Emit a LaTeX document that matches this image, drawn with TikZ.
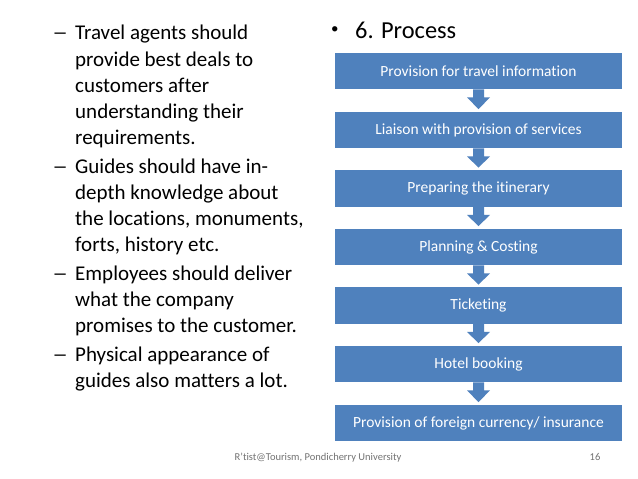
\documentclass[tikz,border=0pt]{standalone}
\usepackage{fontspec}
\usetikzlibrary{calc}
\setmainfont{Carlito}[Ligatures=NoCommon]
\definecolor{boxblue}{HTML}{4F81BD}
\tikzset{
  stagebox/.style={fill=boxblue,draw=none,minimum width=287pt,minimum height=36.5pt,inner sep=0pt,text=white,font=\fontsize{15.5}{18}\selectfont,anchor=center},
  flowarrow/.style={fill=boxblue,draw=none},
  bodyline/.style={anchor=base west,inner sep=0pt,font=\fontsize{21}{25}\selectfont,text=black},
  headline/.style={anchor=base west,inner sep=0pt,font=\fontsize{24.4}{28}\selectfont,text=black},
  bulletmark/.style={anchor=base west,inner sep=0pt,font=\fontsize{15}{18}\selectfont,text=black},
  footer/.style={inner sep=0pt,anchor=base,font=\fontsize{10.5}{12}\selectfont,text=black!55}
}
\begin{document}
\begin{tikzpicture}[x=1pt,y=-1pt]
\useasboundingbox[fill=white] (0,0) rectangle (638,479);
\foreach \n/\yy/\t in {a/71/{Provision for travel information},b/130/{Liaison with provision of services},c/188.5/{Preparing the itinerary},d/247/{Planning \& Costing},e/305.5/{Ticketing},f/364/{Hotel booking},g/423/{Provision of foreign currency/ insurance}}
  \node[stagebox] (\n) at (478.5,\yy) {\t};
\foreach \p/\q in {a/b,b/c,c/d,d/e,e/f,f/g}
  \fill[flowarrow] ($(\p.south)+(-5.5,0)$) -- ($(\p.south)+(5.5,0)$) -- ($(\p.south)+(5.5,8)$) -- ($(\p.south)+(11.5,8)$) -- ($(\q.north)+(0,-2.5)$) -- ($(\p.south)+(-11.5,8)$) -- ($(\p.south)+(-5.5,8)$) -- cycle;
\node[headline] (bh) at (355,38) {6. Process};
\node[bulletmark] (bb) at (331,33) {•};
\foreach \k/\yy/\t in {a/39/{Travel agents should},b/66/{provide best deals to},c/92/{customers after},d/118/{understanding their},e/144/{requirements.},f/173/{Guides should have in-},g/199/{depth knowledge about},h/225/{the locations, monuments,},i/251/{forts, history etc.},j/280/{Employees should deliver},k/306/{what the company},l/332/{promises to the customer.},m/361/{Physical appearance of},n/387/{guides also matters a lot.}}
  \node[bodyline] (t\k) at (75,\yy) {\t};
\foreach \k/\yy in {1/39,2/173,3/280,4/361}
  \node[bodyline,xscale=1.5] (d\k) at (52,\yy) {–};
\node[footer] (fl) at (318,460) {R'tist@Tourism, Pondicherry University};
\node[footer] (fr) at (595,460) {16};
\end{tikzpicture}
\end{document}
